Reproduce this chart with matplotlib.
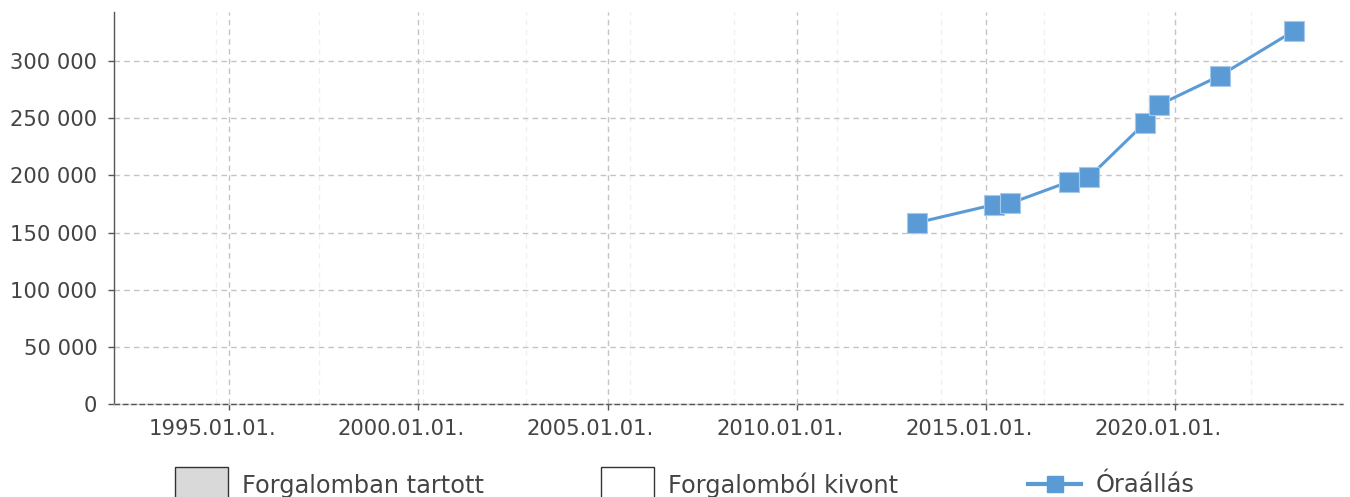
import matplotlib
matplotlib.use("Agg")
import matplotlib.pyplot as plt
import matplotlib.dates as mdates
import matplotlib.transforms as mtransforms
from matplotlib.ticker import FuncFormatter, MultipleLocator
from matplotlib.patches import Patch
from matplotlib.lines import Line2D
from datetime import datetime

# ---- data ----
dates = ["2013-03-10", "2015-03-21", "2015-08-26", "2017-03-18", "2017-09-27",
         "2019-03-17", "2019-07-30", "2021-03-13", "2023-02-28"]
hours = [158600, 174300, 175500, 194400, 198500, 245500, 261300, 286900, 326200]
legend_labels = ["Forgalomban tartott", "Forgalomból kivont", "Óraállás"]
x_tick_years = [1995, 2000, 2005, 2010, 2015, 2020]
y_ticks = [0, 50000, 100000, 150000, 200000, 250000, 300000]

x = [datetime.strptime(d, "%Y-%m-%d") for d in dates]

TXT = "#444444"
LINE = "#5b9bd5"

plt.rcParams['font.family'] = ['DejaVu Sans']
fig = plt.figure(figsize=(13.5, 4.97), dpi=100)
ax = fig.add_axes([0.0842, 0.1865, 0.9106, 0.79])

ax.plot(x, hours, color=LINE, lw=2.2, marker="s", markersize=14,
        markerfacecolor=LINE, markeredgecolor="#a8c8ec", markeredgewidth=0.8, zorder=5)

ax.set_xlim(datetime(1991, 12, 10), datetime(2024, 6, 13))
ax.set_ylim(0, 342800)

ax.set_xticks([datetime(y, 1, 1) for y in x_tick_years])
ax.xaxis.set_major_formatter(mdates.DateFormatter("%Y.%m.%d."))
ax.xaxis.set_minor_locator(MultipleLocator(1000))
ax.set_yticks(y_ticks)
ax.yaxis.set_major_formatter(FuncFormatter(lambda v, p: f"{int(v):,}".replace(",", " ")))

ax.grid(True, which="major", axis="both", color="#c4c4c4", linestyle=(0, (4, 3)), lw=1.0)
ax.grid(True, which="minor", axis="x", color="#f0f0f0", linestyle=(0, (4, 3)), lw=1.0)
ax.set_axisbelow(True)
ax.axhline(0, color="#555555", lw=1.0, linestyle=(0, (4, 2)), zorder=3, clip_on=False)

for s in ["top", "right"]:
    ax.spines[s].set_visible(False)
ax.spines["left"].set_color("#555555")
ax.spines["left"].set_linewidth(1.0)
ax.spines["bottom"].set_color("#d0d0d0")
ax.spines["bottom"].set_linewidth(1.0)

ax.tick_params(axis="both", which="major", labelsize=15.2, colors=TXT, length=4.3, width=1.0)
ax.tick_params(axis="x", which="major", pad=6.5, color="#555555")
ax.tick_params(axis="y", which="major", pad=7.5, color="#555555")
ax.tick_params(axis="x", which="minor", length=0)

# x tick labels sit slightly left of their ticks in the reference
offset = mtransforms.ScaledTranslation(-0.17, 0, fig.dpi_scale_trans)
for lbl in ax.get_xticklabels():
    lbl.set_transform(lbl.get_transform() + offset)

# legend: three separately placed entries
handles = [
    Patch(facecolor="#d9d9d9", edgecolor="#333333", linewidth=1.0),
    Patch(facecolor="white", edgecolor="#333333", linewidth=1.0),
    Line2D([0], [0], color=LINE, lw=3, marker="s", markersize=11, markerfacecolor=LINE,
           markeredgecolor=LINE),
]
xs = [175, 601, 1028]
for h, lab, xp in zip(handles, legend_labels, xs):
    is_patch = isinstance(h, Patch)
    hl = 2.2 if is_patch else 2.22
    leg = fig.legend([h], [lab], loc="center left",
                     bbox_to_anchor=(xp / 1350, 1 - 485 / 497),
                     frameon=False, fontsize=17.3, borderpad=0, borderaxespad=0,
                     handlelength=hl, handleheight=1.9 if is_patch else 0.7,
                     handletextpad=0.6)
    for t in leg.get_texts():
        t.set_color(TXT)

fig.savefig("out.png", dpi=100)
